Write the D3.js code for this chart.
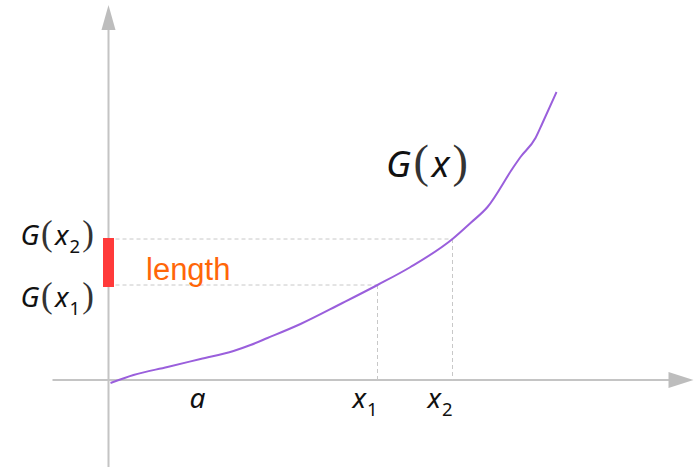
<!DOCTYPE html>
<html><head><meta charset="utf-8">
<script src="https://cdn.jsdelivr.net/npm/d3@7"></script>
<style>html,body{margin:0;padding:0;background:#fff;}svg{display:block;}</style>
</head><body>
<svg id="c" width="694" height="470"></svg>
<script>
// ---- data ----
const curveX = [0.04, 0.5, 1.18, 1.84, 2.5, 2.84, 3.18, 3.84, 4.64, 5.38, 6.04, 6.88, 7.24, 7.58, 8.1, 8.24, 8.54, 8.68, 8.96];
const curveY = [-0.06, 0.1, 0.26, 0.42, 0.58, 0.7, 0.84, 1.12, 1.52, 1.9, 2.26, 2.82, 3.14, 3.46, 4.26, 4.46, 4.84, 5.14, 5.76];
const tickNames = ["a", "x", "x"];
const tickSubs = ["", "1", "2"];
const tickValues = [1.8, 5.38, 6.88];
const levelSubs = ["1", "2"];
const levelValues = [1.9, 2.82];
const xAxisExtent = [-1.12, 11.7];
const yAxisExtent = [-1.74, 7.5];
const curveLabel = "G";
const lengthLabel = "length";

// ---- scales ----
const x = d3.scaleLinear().domain([0, 10]).range([108.5, 608.5]);
const y = d3.scaleLinear().domain([0, 7]).range([380, 30]);
const svg = d3.select("#c");
const axisCol = "#c4c4c4";
const mathFont = "'Noto Sans', 'Open Sans', sans-serif";
const parenFont = "'Liberation Serif', serif";

// axes
svg.append("line").attr("x1", x(xAxisExtent[0])).attr("x2", x(xAxisExtent[1]) - 20)
  .attr("y1", y(0)).attr("y2", y(0)).attr("stroke", axisCol).attr("stroke-width", 2);
const xe = x(xAxisExtent[1]);
svg.append("path").attr("d", `M${xe},${y(0)} L${xe-25},${y(0)-8} L${xe-25},${y(0)+8}Z`).attr("fill", "#bdbdbd");
svg.append("line").attr("x1", x(0)).attr("x2", x(0))
  .attr("y1", y(yAxisExtent[0])).attr("y2", y(yAxisExtent[1]) + 20).attr("stroke", axisCol).attr("stroke-width", 2);
const ye = y(yAxisExtent[1]);
svg.append("path").attr("d", `M${x(0)},${ye} L${x(0)-7},${ye+25} L${x(0)+7},${ye+25}Z`).attr("fill", "#bdbdbd");

// dashed guides
tickValues.slice(1).forEach((tv, i) => {
  const lv = levelValues[i];
  svg.append("line").attr("x1", x(0)).attr("x2", x(tv)).attr("y1", y(lv)).attr("y2", y(lv))
    .attr("stroke", "#c8c8c8").attr("stroke-width", 1).attr("stroke-dasharray", "4,3");
  svg.append("line").attr("x1", x(tv)).attr("x2", x(tv)).attr("y1", y(lv)).attr("y2", y(0))
    .attr("stroke", "#c8c8c8").attr("stroke-width", 1).attr("stroke-dasharray", "4,3");
});

// red bar
svg.append("rect").attr("x", x(0) - 5.5).attr("width", 11)
  .attr("y", y(levelValues[1]) - 1).attr("height", y(levelValues[0]) - y(levelValues[1]) + 3)
  .attr("fill", "#ff3a3a");

// curve
const pts = curveX.map((d, i) => [d, curveY[i]]);
svg.append("path").datum(pts)
  .attr("d", d3.line().x(d => x(d[0])).y(d => y(d[1])).curve(d3.curveMonotoneX))
  .attr("fill", "none").attr("stroke", "#9a5fdc").attr("stroke-width", 2);

// math text helper
function mathText(g, px, py, size, name, sub, anchor, withG) {
  const t = g.append("text").attr("x", px).attr("y", py).attr("text-anchor", anchor)
    .attr("fill", "#111").style("font-size", size + "px");
  if (withG) {
    t.append("tspan").text(curveLabel).attr("font-family", mathFont).attr("font-style", "italic");
    t.append("tspan").text("(").attr("font-family", parenFont).style("font-size", (size * 1.25) + "px").attr("dx", size*0.06).attr("fill", "#333");
  }
  t.append("tspan").text(name).attr("font-family", mathFont).attr("font-style", "italic").attr("dx", withG ? size*0.08 : 0);
  if (sub) {
    t.append("tspan").text(sub).attr("font-family", mathFont).style("font-size", (size * 0.66) + "px").attr("dy", size * 0.28).attr("dx", 1);
  }
  if (withG) {
    t.append("tspan").text(")").attr("font-family", parenFont).style("font-size", (size * 1.25) + "px")
      .attr("dy", sub ? -size * 0.28 : 0).attr("dx", size*0.08).attr("fill", "#333");
  }
  return t;
}

// x tick labels
tickValues.forEach((tv, i) => {
  if (tickSubs[i]) mathText(svg, x(tv), 408, 28, tickNames[i], tickSubs[i], "end", false);
  else mathText(svg, x(tv) - 1, 408, 28, tickNames[i], "", "middle", false);
});

// y level labels
levelValues.forEach((lv, i) => {
  mathText(svg, 94, y(lv) + 6 + (i === 0 ? 16 : 0), 28, "x", levelSubs[i], "end", true);
});

// curve label
mathText(svg, 468, 177, 37, "x", "", "end", true);

// length label
svg.append("text").attr("x", 146).attr("y", 280).text(lengthLabel)
  .attr("font-family", "'Liberation Sans', Arial, sans-serif").style("font-size", "31px").attr("fill", "#ff6608");
</script>
</body></html>
